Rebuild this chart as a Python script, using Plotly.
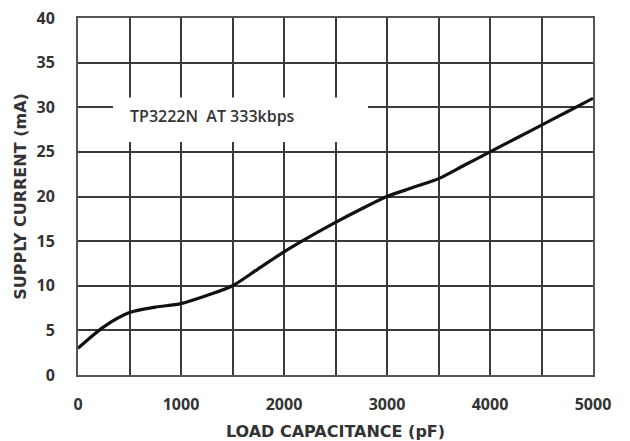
import plotly.graph_objects as go

# Data
load_pf = [0, 250, 500, 750, 1000, 1250, 1500, 1750, 2000, 2250, 2500, 2750,
           3000, 3250, 3500, 3750, 4000, 4250, 4500, 4750, 5000]
supply_ma = [3.0, 5.4, 7.0, 7.6, 8.0, 8.9, 10.0, 11.9, 13.8, 15.5, 17.1, 18.6,
             20.0, 21.0, 22.0, 23.5, 25.0, 26.5, 28.0, 29.5, 31.0]

x_grid = list(range(0, 5001, 500))
x_labels = [str(v) if v % 1000 == 0 else "" for v in x_grid]
y_ticks = list(range(0, 41, 5))
label_text = "TP3222N  AT 333kbps"

fig = go.Figure()
fig.add_trace(go.Scatter(
    x=load_pf, y=supply_ma, mode="lines",
    line=dict(color="#111111", width=3.2, shape="spline", smoothing=0.8),
    hoverinfo="skip", showlegend=False,
))

# White label box covering grid
fig.add_shape(type="rect", xref="x", yref="y", x0=340, x1=2816, y0=26.1, y1=31.1,
              fillcolor="white", line=dict(width=0), layer="between")
fig.add_annotation(x=485, y=29.0, xref="x", yref="y", text=label_text,
                   showarrow=False, xanchor="left", yanchor="middle",
                   font=dict(family="Open Sans", size=16, color="#333333", weight=600))

tick_font = dict(family="Open Sans", size=16, color="#333333", weight="bold")
title_font = dict(family="DejaVu Sans", size=16, color="#333333", weight="bold")

fig.update_layout(
    width=622, height=433,
    margin=dict(l=70, r=37, t=10, b=66),
    paper_bgcolor="white", plot_bgcolor="white",
    xaxis=dict(range=[0, 5000], tickvals=x_grid, ticktext=x_labels, automargin=False,
               ticklabeloverflow="allow",
               showgrid=True, gridcolor="#3a3a3a", gridwidth=2,
               showline=True, linecolor="#555555", linewidth=2, mirror=True,
               zeroline=False, ticks="", tickfont=tick_font, ticklabelstandoff=14,
               title=dict(text="LOAD CAPACITANCE (pF)", font=title_font, standoff=12)),
    yaxis=dict(range=[0, 40], tickvals=y_ticks, automargin=False,
               ticklabeloverflow="allow",
               showgrid=True, gridcolor="#3a3a3a", gridwidth=2,
               showline=True, linecolor="#555555", linewidth=2, mirror=True,
               zeroline=False, ticks="", tickfont=tick_font, ticklabelstandoff=18,
               title=dict(text="SUPPLY CURRENT (mA)", font=title_font, standoff=6)),
)

fig.write_html("out.html")
